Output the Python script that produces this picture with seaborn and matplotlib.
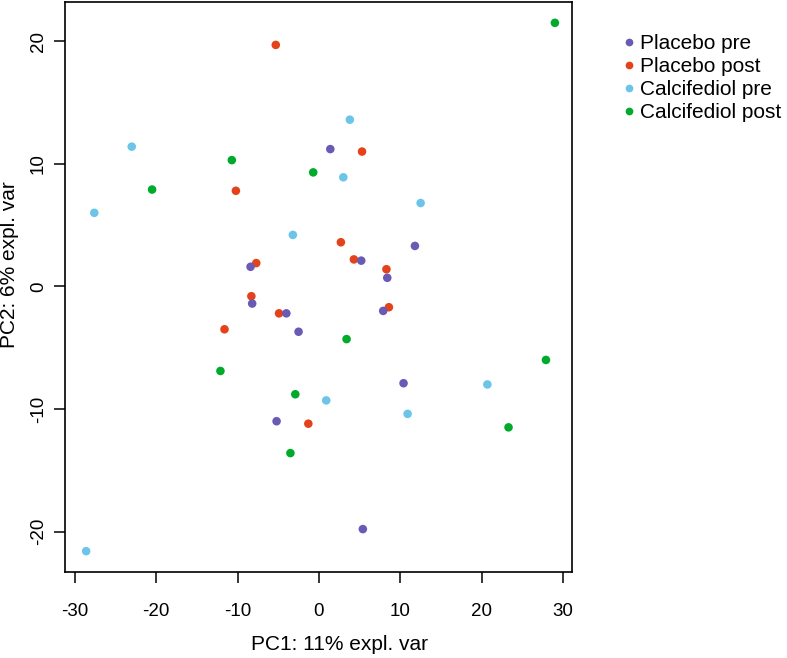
import pandas as pd
import matplotlib
matplotlib.use('Agg')
import matplotlib.pyplot as plt
import seaborn as sns

groups = ['Placebo pre', 'Placebo post', 'Calcifediol pre', 'Calcifediol post']
colors = ['#6a5ab6', '#e4421a', '#6cc5e8', '#00aa2b']

placebo_pre_x = [1.4, 11.8, 5.2, -8.4, 8.4, -8.2, -4.0, 7.9, -2.5, 10.4, -5.2, 5.4]
placebo_pre_y = [11.2, 3.3, 2.1, 1.6, 0.7, -1.4, -2.2, -2.0, -3.7, -7.9, -11.0, -19.8]

placebo_post_x = [-5.3, 5.3, -10.2, 2.7, 4.3, -7.7, 8.3, -8.3, -4.9, 8.6, -11.6, -1.3]
placebo_post_y = [19.7, 11.0, 7.8, 3.6, 2.2, 1.9, 1.4, -0.8, -2.2, -1.7, -3.5, -11.2]

calci_pre_x = [3.8, -23.0, 3.0, 12.5, -27.6, -3.2, 20.7, 0.9, 10.9, -28.6]
calci_pre_y = [13.6, 11.4, 8.9, 6.8, 6.0, 4.2, -8.0, -9.3, -10.4, -21.6]

calci_post_x = [29.0, -10.7, -0.7, -20.5, 3.4, 27.9, -12.1, -2.9, 23.3, -3.5]
calci_post_y = [21.5, 10.3, 9.3, 7.9, -4.3, -6.0, -6.9, -8.8, -11.5, -13.6]

x_ticks = [-30, -20, -10, 0, 10, 20, 30]
y_ticks = [-20, -10, 0, 10, 20]

# red drawn first so purple sits on top where they overlap
parts = [
    ('Placebo post', placebo_post_x, placebo_post_y),
    ('Placebo pre', placebo_pre_x, placebo_pre_y),
    ('Calcifediol pre', calci_pre_x, calci_pre_y),
    ('Calcifediol post', calci_post_x, calci_post_y),
]
df = pd.concat([pd.DataFrame({'PC1': xs, 'PC2': ys, 'group': g}) for g, xs, ys in parts],
               ignore_index=True)

sns.set_style('white')
plt.rcParams['font.family'] = ['Liberation Sans', 'DejaVu Sans']
plt.rcParams['axes.unicode_minus'] = False
plt.rcParams['text.color'] = 'black'
plt.rcParams['axes.labelcolor'] = 'black'

fig = plt.figure(figsize=(7.87, 6.58), dpi=100)
ax = fig.add_axes([65 / 787, 86 / 658, 507 / 787, 570 / 658])

sns.scatterplot(data=df, x='PC1', y='PC2', hue='group', hue_order=groups,
                palette=dict(zip(groups, colors)), s=38, linewidth=0, ax=ax)

ax.set_xlim(-31.2, 31.1)
ax.set_ylim(-23.3, 23.2)
ax.set_xticks(x_ticks)
ax.set_yticks(y_ticks)
ax.set_yticklabels([str(v) for v in y_ticks], rotation=90, va='center')
for sp in ax.spines.values():
    sp.set_visible(True)
    sp.set_color('black')
    sp.set_linewidth(1.2)
ax.tick_params(axis='both', direction='out', length=8, width=1.1, color='black',
               labelsize=13.5, labelcolor='black', left=True, bottom=True)
ax.tick_params(axis='x', pad=14)
ax.tick_params(axis='y', pad=5)

ax.set_xlabel('PC1: 11% expl. var', fontsize=15, color='black')
ax.set_ylabel('PC2: 6% expl. var', fontsize=15, color='black')
ax.xaxis.set_label_coords(0.541, -0.11)
ax.yaxis.set_label_coords(-0.09, 0.54)
ax.grid(False)

leg = ax.legend(loc='upper left', bbox_to_anchor=(620 / 787, 1 - 34 / 658),
                bbox_transform=fig.transFigure, frameon=False, fontsize=15,
                handletextpad=0.05, labelspacing=0.2, markerscale=0.9,
                borderaxespad=0, borderpad=0, handlelength=0.9)
for t in leg.get_texts():
    t.set_color('black')

fig.savefig('out.png', dpi=100)
